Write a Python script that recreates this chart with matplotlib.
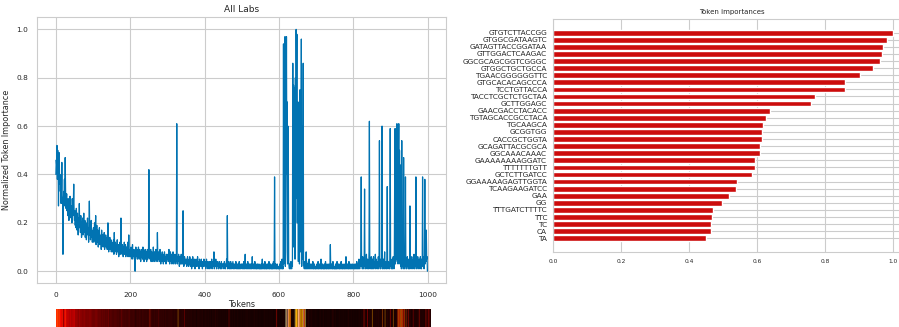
import numpy as np
import matplotlib
matplotlib.use('Agg')
import matplotlib.pyplot as plt
import seaborn as sns

# token importance per position, in hundredths
imp_pct = [
    40, 46, 44, 52, 38, 50, 45, 27, 42, 49, 36, 40, 33, 38, 28, 35, 45, 31, 30, 7,
    26, 33, 30, 38, 27, 47, 34, 26, 29, 32, 25, 28, 23, 30, 27, 21, 28, 25, 31, 24,
    26, 22, 27, 20, 30, 25, 23, 28, 36, 24,
    21, 25, 19, 23, 18, 26, 22, 17, 24, 20, 15, 22, 19, 28, 18, 21, 16, 23, 19, 14,
    20, 17, 22, 15, 19, 24, 16, 18, 21, 14, 17, 20, 13, 19, 16, 22, 15, 18, 12, 17,
    29, 15, 19, 13, 16, 21, 14, 17, 12, 16,
    14, 18, 12, 16, 20, 13, 17, 23, 11, 15, 19, 12, 14, 17, 10, 16, 13, 18, 11, 15,
    12, 14, 9, 17, 13, 11, 15, 10, 14, 12, 16, 9, 13, 11, 15, 10, 12, 14, 9, 13,
    20, 11, 8, 12, 10, 14, 9, 11, 13, 8,
    10, 12, 8, 11, 9, 13, 7, 16, 10, 8, 12, 9, 11, 7, 10, 13, 8, 9, 11, 6,
    10, 8, 12, 7, 9, 22, 8, 10, 7, 11, 9, 6, 10, 8, 12, 7, 9, 11, 6, 8,
    10, 7, 9, 12, 6, 8, 15, 7, 9, 6,
    8, 6, 10, 7, 9, 5, 11, 7, 8, 6, 9, 5, 7, 0, 8, 10, 6, 7, 9, 5,
    8, 6, 10, 7, 5, 9, 6, 8, 4, 7, 9, 6, 8, 5, 10, 6, 7, 4, 8, 6,
    9, 5, 7, 8, 4, 6, 9, 5, 7, 6,
    42, 6, 8, 5, 7, 9, 4, 6, 8, 5, 7, 4, 10, 6, 5, 8, 4, 7, 6, 9,
    5, 7, 4, 16, 6, 8, 5, 7, 4, 6, 9, 5, 3, 7, 6, 4, 8, 5, 6, 3,
    7, 5, 8, 4, 6, 5, 3, 7, 5, 6,
    5, 7, 4, 6, 9, 5, 3, 6, 8, 4, 5, 7, 3, 6, 4, 8, 5, 3, 6, 4,
    7, 5, 3, 6, 4, 61, 5, 3, 6, 4, 7, 5, 2, 4, 6, 3, 5, 7, 3, 4,
    6, 3, 25, 5, 2, 4, 6, 3, 5, 4,
    3, 5, 2, 4, 6, 3, 4, 2, 5, 3, 6, 4, 2, 3, 5, 1, 4, 3, 6, 2,
    4, 3, 5, 2, 1, 4, 3, 5, 2, 4, 3, 6, 2, 3, 4, 1, 5, 3, 2, 4,
    3, 5, 2, 3, 1, 4, 3, 2, 5, 3,
    3, 2, 4, 1, 3, 5, 2, 3, 4, 1, 3, 2, 4, 3, 1, 2, 4, 3, 2, 5,
    1, 3, 2, 4, 2, 8, 1, 4, 2, 3, 5, 2, 1, 3, 4, 2, 3, 1, 2, 4,
    3, 2, 1, 3, 2, 4, 1, 3, 2, 3,
    2, 3, 1, 4, 2, 3, 1, 2, 3, 5, 2, 23, 1, 3, 2, 4, 1, 2, 3, 1,
    4, 2, 3, 1, 2, 3, 4, 1, 2, 3, 2, 1, 3, 2, 4, 1, 2, 3, 1, 2,
    3, 1, 2, 4, 1, 3, 2, 1, 2, 3,
    2, 1, 3, 2, 1, 4, 2, 1, 3, 7, 2, 1, 2, 3, 1, 2, 4, 1, 2, 3,
    1, 2, 3, 1, 2, 3, 1, 2, 6, 2, 1, 3, 2, 1, 2, 4, 1, 2, 3, 1,
    2, 1, 3, 2, 1, 2, 3, 1, 2, 1,
    2, 1, 3, 1, 2, 5, 1, 2, 3, 1, 2, 1, 4, 2, 1, 3, 1, 2, 1, 3,
    2, 1, 2, 4, 1, 2, 1, 3, 2, 1, 2, 1, 3, 1, 2, 4, 1, 2, 39, 1,
    2, 3, 1, 2, 1, 3, 2, 1, 2, 1,
    2, 1, 3, 1, 2, 4, 1, 2, 5, 1, 2, 1, 94, 3, 90, 15, 97, 2, 8, 55,
    97, 40, 70, 3, 60, 50, 4, 2, 1, 3, 2, 1, 4, 2, 1, 3, 2, 86, 10, 77,
    45, 76, 63, 5, 80, 30, 100, 60, 98, 20,
    55, 70, 4, 65, 50, 3, 75, 64, 8, 40, 96, 2, 45, 60, 5, 86, 3, 2, 1, 4,
    2, 1, 3, 8, 1, 2, 3, 1, 2, 4, 1, 5, 2, 1, 3, 2, 1, 2, 3, 1,
    2, 4, 1, 2, 1, 3, 2, 1, 2, 1,
    1, 2, 3, 1, 2, 4, 1, 2, 1, 3, 2, 1, 2, 5, 1, 2, 1, 3, 2, 1,
    2, 1, 3, 1, 2, 4, 1, 2, 1, 3, 2, 1, 2, 1, 3, 2, 1, 2, 11, 1,
    2, 3, 1, 2, 1, 4, 2, 1, 2, 1,
    2, 1, 3, 1, 2, 1, 4, 2, 1, 2, 3, 1, 2, 1, 3, 2, 1, 4, 2, 1,
    2, 1, 3, 2, 1, 2, 1, 3, 2, 1, 6, 2, 1, 2, 3, 1, 2, 1, 4, 2,
    1, 2, 1, 3, 2, 1, 2, 3, 1, 2,
    1, 2, 3, 1, 2, 1, 3, 2, 1, 4, 2, 1, 2, 3, 1, 5, 2, 1, 3, 2,
    8, 39, 2, 4, 1, 6, 3, 2, 1, 5, 34, 2, 4, 1, 3, 7, 2, 1, 5, 3,
    2, 1, 8, 62, 3, 1, 4, 2, 6, 1,
    3, 5, 1, 2, 6, 1, 4, 2, 3, 7, 1, 5, 2, 3, 1, 4, 2, 6, 1, 3,
    54, 2, 5, 1, 4, 3, 2, 60, 1, 4, 2, 5, 1, 3, 8, 1, 2, 4, 3, 1,
    5, 35, 2, 1, 4, 2, 3, 1, 5, 59,
    2, 4, 1, 3, 5, 1, 2, 6, 3, 1, 4, 40, 59, 3, 45, 5, 30, 61, 4, 52,
    3, 38, 61, 5, 50, 3, 35, 2, 44, 1, 54, 3, 2, 5, 1, 47, 2, 4, 1, 3,
    39, 2, 5, 1, 4, 6, 2, 3, 1, 5,
    3, 1, 27, 2, 5, 1, 4, 6, 2, 3, 1, 5, 2, 7, 1, 3, 4, 2, 39, 1,
    5, 3, 2, 6, 1, 4, 2, 5, 3, 1, 6, 2, 4, 1, 5, 3, 39, 2, 6, 4,
    1, 5, 38, 3, 6, 4, 17, 5, 6, 0,
]

tokens = [
    'GTGTCTTACCGG', 'GTGGCGATAAGTC', 'GATAGTTACCGGATAA', 'GTTGGACTCAAGAC',
    'GGCGCAGCGGTCGGGC', 'GTGGCTGCTGCCA', 'TGAACGGGGGGTTC', 'GTGCACACAGCCCA',
    'TCCTGTTACCA', 'TACCTCGCTCTGCTAA', 'GCTTGGAGC', 'GAACGACCTACACC',
    'TGTAGCACCGCCTACA', 'TGCAAGCA', 'GCGGTGG', 'CACCGCTGGTA',
    'GCAGATTACGCGCA', 'GGCAAACAAAC', 'GAAAAAAAAGGATC', 'TTTTTTTGTT',
    'GCTCTTGATCC', 'GGAAAAAGAGTTGGTA', 'TCAAGAAGATCC', 'GAA', 'GG',
    'TTTGATCTTTTC', 'TTC', 'TC', 'CA', 'TA',
]
token_imp = [
    1.0, 0.983, 0.971, 0.969, 0.963, 0.941, 0.904, 0.860, 0.858, 0.771,
    0.760, 0.639, 0.625, 0.618, 0.614, 0.613, 0.607, 0.607, 0.595, 0.593,
    0.586, 0.542, 0.539, 0.518, 0.496, 0.470, 0.467, 0.464, 0.463, 0.450,
]

sns.set_style('whitegrid')
plt.rcParams['font.family'] = ['DejaVu Sans']

imp = np.array(imp_pct) / 100.0
pos = np.arange(len(imp))

fig = plt.figure(figsize=(8.99, 3.27), dpi=100)

# --- line chart ---
ax = fig.add_axes([0.0415, 0.1336, 0.4546, 0.8135])
ax.plot(pos, imp, color='#0173b2', linewidth=0.9)
ax.set_title('All Labs', fontsize=6.5, color='.15', pad=4)
ax.set_xlabel('Tokens', fontsize=5.8, color='.15', labelpad=1)
ax.set_ylabel('Normalized Token Importance', fontsize=5.8, color='.15', labelpad=4)
ax.set_xticks([0, 200, 400, 600, 800, 1000])
ax.set_yticks([0.0, 0.2, 0.4, 0.6, 0.8, 1.0])
ax.tick_params(labelsize=5.3, colors='.15', pad=3)
for s in ax.spines.values():
    s.set_color('.8')

# --- heat strip under the line chart ---
hx = fig.add_axes([0.062, -0.04, 0.4164, 0.095])
hx.imshow(imp[None, :], cmap='hot', aspect='auto', vmin=0, vmax=1)
hx.axis('off')

# --- bar chart ---
bx = fig.add_axes([0.6155, 0.2303, 0.3967, 0.7107])
ypos = np.arange(len(tokens))
bx.barh(ypos, token_imp, height=0.8, color='#cc0c0c')
bx.set_yticks(ypos)
bx.set_yticklabels(tokens, fontsize=5.3, color='.15')
bx.invert_yaxis()
bx.set_xticks([0.0, 0.2, 0.4, 0.6, 0.8, 1.0])
bx.tick_params(axis='x', labelsize=4.2, colors='.15', pad=1.5)
bx.tick_params(axis='y', pad=1)
bx.set_title('Token importances', fontsize=5, color='.15', pad=4)
for s in bx.spines.values():
    s.set_color('.8')

fig.savefig('out.png', dpi=100)
